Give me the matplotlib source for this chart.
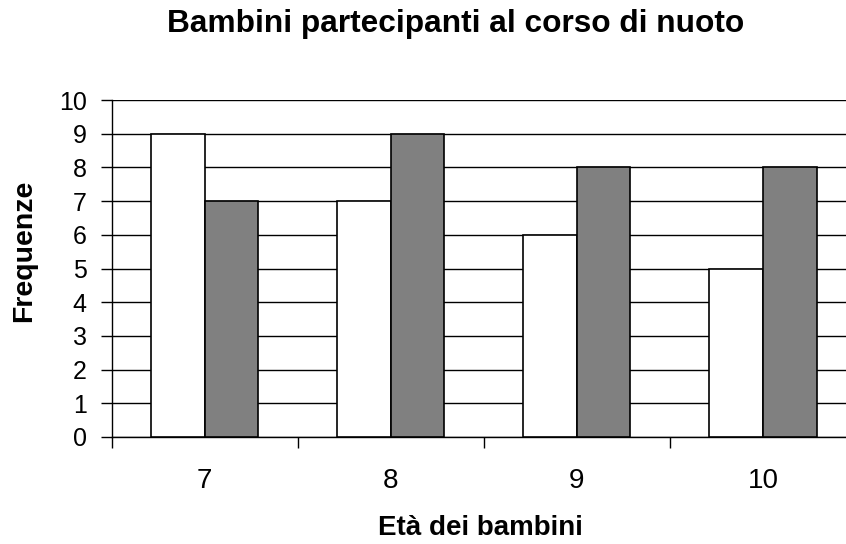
import matplotlib
matplotlib.use("Agg")
import matplotlib.pyplot as plt
import numpy as np

plt.rcParams['font.family'] = ['Liberation Sans', 'DejaVu Sans']

categories = ['7', '8', '9', '10']
serie_bianca = [9, 7, 6, 5]
serie_grigia = [7, 9, 8, 8]
y_ticks = list(range(0, 11))

W, H = 846, 544
fig = plt.figure(figsize=(W / 100, H / 100), dpi=100)
left, right, bottom, top = 111.5, 856, 437, 100
ax = fig.add_axes([left / W, 1 - bottom / H, (right - left) / W, (bottom - top) / H])

x = np.arange(len(categories))
bw = 0.288
ax.bar(x - bw / 2, serie_bianca, bw, color='white', edgecolor='black', linewidth=1.2, zorder=3)
ax.bar(x + bw / 2, serie_grigia, bw, color='#808080', edgecolor='black', linewidth=1.2, zorder=3)

ax.set_xlim(-0.5, len(categories) - 0.5)
ax.set_ylim(0, 10)
ax.set_yticks(y_ticks)
ax.set_yticklabels([str(v) for v in y_ticks], fontsize=18)
ax.yaxis.grid(True, color='black', linewidth=1.0, zorder=0)
ax.set_axisbelow(True)

ax.set_xticks(np.arange(-0.5, len(categories) + 0.5, 1.0))
ax.set_xticklabels([])
ax.set_xticks(x, minor=True)
ax.set_xticklabels(categories, minor=True, fontsize=20)
ax.tick_params(axis='x', which='major', length=8, width=1, direction='out')
ax.tick_params(axis='x', which='minor', length=0, pad=22.5)
ax.tick_params(axis='y', length=8, width=1, direction='out', pad=10)

for s in ['top', 'right']:
    ax.spines[s].set_visible(False)
ax.spines['left'].set_linewidth(1.0)
ax.spines['bottom'].set_linewidth(1.0)

fig.text(456 / W, 1 - 32 / H, 'Bambini partecipanti al corso di nuoto', ha='center', va='baseline',
         fontsize=22.8, fontweight='bold')
fig.text(24 / W, 1 - 251 / H, 'Frequenze', ha='center', va='center', rotation=90,
         fontsize=20.5, fontweight='bold')
fig.text(480 / W, 1 - 535 / H, 'Età dei bambini', ha='center', va='baseline',
         fontsize=20, fontweight='bold')

fig.savefig('out.png', dpi=100)
